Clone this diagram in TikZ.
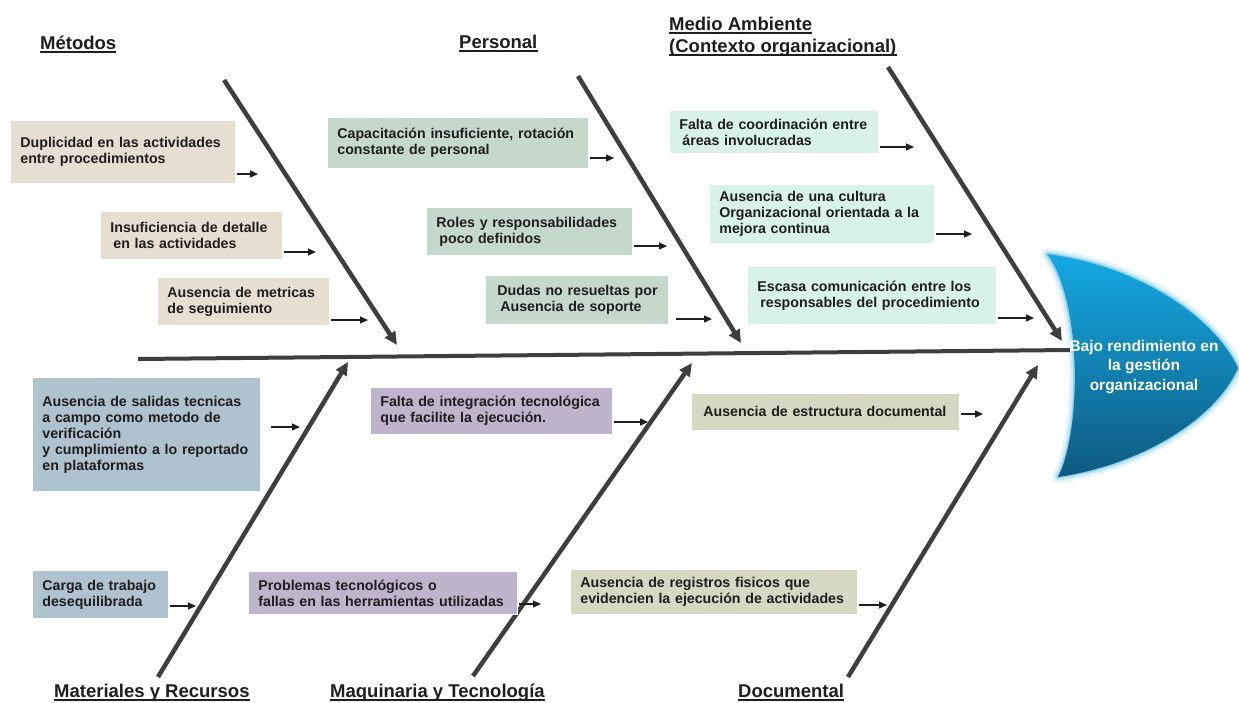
\documentclass[tikz,border=0pt]{standalone}
\usepackage{fontspec}
\setmainfont{Liberation Sans}
\usetikzlibrary{arrows.meta,calc}
\definecolor{cbeige}{HTML}{E6DFD1}
\definecolor{cgreen}{HTML}{C5D8CC}
\definecolor{cmint}{HTML}{D8F2EA}
\definecolor{cblue}{HTML}{AEC2CF}
\definecolor{clav}{HTML}{BEB5CC}
\definecolor{csage}{HTML}{D6D8C2}
\definecolor{bonec}{HTML}{3E3E3E}
\definecolor{txt}{HTML}{1E1E1E}
\definecolor{headlight}{HTML}{14AAE4}
\definecolor{headdark}{HTML}{0E5A80}
\definecolor{glow}{HTML}{9FD8EE}
\begin{document}
\begin{tikzpicture}[x=1pt,y=-1pt,
  box/.style={anchor=north west, inner xsep=10pt, inner ysep=3pt, align=left,
    font=\fontsize{14.2}{16}\selectfont\bfseries, text=txt, draw=white, line width=0.8pt},
  bone/.style={line width=4.5pt, draw=bonec, -{Triangle[length=13pt,width=12pt]}},
  sarr/.style={line width=1.2pt, draw=txt, -{Triangle[length=8pt,width=7pt]}},
  ttl/.style={anchor=base west, inner sep=0pt, font=\fontsize{18.5}{22}\selectfont\bfseries, text=txt},
  uline/.style={line width=1.3pt, draw=txt}
]
\useasboundingbox (0,0) rectangle (1239,702);

% ---------- head ----------
\def\headpath{(1047,254) .. controls (1140,266) and (1215,318) .. (1238,368)
   .. controls (1215,420) and (1140,465) .. (1058,477)
   .. controls (1082,430) and (1082,300) .. cycle}
\draw[glow, line width=12pt, opacity=0.25, line join=round] \headpath;
\draw[glow, line width=7pt, opacity=0.45, line join=round] \headpath;
\draw[glow!70!headlight, line width=3pt, opacity=0.7, line join=round] \headpath;
\shade[left color=headlight, right color=headdark, shading angle=0] \headpath;

% ---------- spine ----------
\coordinate (s0) at (138,359);
\coordinate (s1) at (1070,350);
\draw[line width=4pt, draw=bonec] (s0) -- (s1);

% ---------- bones ----------
\coordinate (m0) at (224,80);   \coordinate (m1) at (397,345);
\coordinate (p0) at (578,76);   \coordinate (p1) at (741,343);
\coordinate (a0) at (888,67);   \coordinate (a1) at (1062,341);
\coordinate (r0) at (158,677);  \coordinate (r1) at (348,362);
\coordinate (q0) at (473,676);  \coordinate (q1) at (692,363);
\coordinate (d0) at (848,677);  \coordinate (d1) at (1038,365);
\draw[bone] (m0) -- (m1);
\draw[bone] (p0) -- (p1);
\draw[bone] (a0) -- (a1);
\draw[bone] (r0) -- (r1);
\draw[bone] (q0) -- (q1);
\draw[bone] (d0) -- (d1);

% ---------- head text ----------
\node[align=center, text=white, font=\fontsize{15.5}{19.5}\selectfont\bfseries] (head) at (1144,367)
  {Bajo rendimiento en\\la gestión\\organizacional};

% ---------- titles ----------
\node[ttl] (tM) at (40,49) {Métodos};
\node[ttl] (tP) at (459,48) {Personal};
\node[ttl] (tA1) at (669,30) {Medio Ambiente};
\node[ttl] (tA2) at (669,52) {(Contexto organizacional)};
\node[ttl] (tR) at (54,697) {Materiales y Recursos};
\node[ttl] (tQ) at (330,697) {Maquinaria y Tecnología};
\node[ttl] (tD) at (738,697) {Documental};
\foreach \t in {tM,tP,tA1,tA2,tR,tQ,tD}
  \draw[uline] ([yshift=-3pt]\t.base west) -- ([yshift=-3pt]\t.base east);

% ---------- boxes ----------
\node[box, fill=cbeige, text width=205pt, minimum height=63pt] (b1) at (10,120)
  {Duplicidad en las actividades\\entre procedimientos};
\node[box, fill=cbeige, text width=162pt, minimum height=48pt] (b2) at (100,211)
  {Insuficiencia de detalle\\\hspace*{3pt}en las actividades};
\node[box, fill=cbeige, text width=152pt, minimum height=48pt] (b3) at (157,277)
  {Ausencia de metricas\\de seguimiento};
\node[box, fill=cgreen, text width=241pt, minimum height=51pt] (b4) at (327,117)
  {Capacitación insuficiente, rotación\\constante de personal};
\node[box, fill=cgreen, text width=186pt, minimum height=48pt] (b5) at (426,207)
  {Roles y responsabilidades\\\hspace*{3pt}poco definidos};
\node[box, fill=cgreen, text width=163pt, minimum height=49pt] (b6) at (485,275)
  {\hspace*{2pt}Dudas no resueltas por\\\hspace*{5pt}Ausencia de soporte};
\node[box, fill=cmint, text width=189pt, minimum height=43pt] (b7) at (669,110)
  {Falta de coordinación entre\\\hspace*{3pt}áreas involucradas};
\node[box, fill=cmint, text width=205pt, minimum height=59pt] (b8) at (709,184)
  {Ausencia de una cultura\\Organizacional orientada a la\\mejora continua};
\node[box, fill=cmint, text width=229pt, minimum height=58pt] (b9) at (747,266)
  {Escasa comunicación entre los\\\hspace*{3pt}responsables del procedimiento};
\node[box, fill=cblue, text width=208pt, minimum height=114pt] (b10) at (32,377)
  {Ausencia de salidas tecnicas\\a campo como metodo de\\verificación\\y cumplimiento a lo reportado\\en plataformas};
\node[box, fill=cblue, text width=116pt, minimum height=48pt] (b11) at (32,570)
  {Carga de trabajo\\desequilibrada};
\node[box, fill=clav, text width=222pt, minimum height=47pt] (b12) at (370,387)
  {Falta de integración tecnológica\\que facilite la ejecución.};
\node[box, fill=clav, text width=249pt, minimum height=43pt] (b13) at (248,571)
  {Problemas tecnológicos o\\fallas en las herramientas utilizadas};
\node[box, fill=csage, text width=248pt, minimum height=37pt] (b14) at (691,393)
  {\hspace*{2pt}Ausencia de estructura documental};
\node[box, fill=csage, text width=267pt, minimum height=45pt] (b15) at (570,569)
  {Ausencia de registros fisicos que\\evidencien la ejecución de actividades};

% ---------- small arrows ----------
\coordinate (e1) at (258,174);
\coordinate (e2) at (316,252);
\coordinate (e3) at (368,320);
\coordinate (e4) at (614,158);
\coordinate (e5) at (667,246);
\coordinate (e6) at (712,319);
\coordinate (e7) at (914,147);
\coordinate (e8) at (972,234);
\coordinate (e9) at (1034,318);
\coordinate (e10) at (300,427);
\coordinate (e11) at (196,606);
\coordinate (e12) at (648,422);
\coordinate (e13) at (541,604);
\coordinate (e14) at (983,414);
\coordinate (e15) at (887,605);
\draw[sarr] ([xshift=1pt]b1.east |- e1) -- (e1);
\draw[sarr] ([xshift=1pt]b2.east |- e2) -- (e2);
\draw[sarr] ([xshift=1pt]b3.east |- e3) -- (e3);
\draw[sarr] ([xshift=1pt]b4.east |- e4) -- (e4);
\draw[sarr] ([xshift=1pt]b5.east |- e5) -- (e5);
\draw[sarr] ([xshift=7pt]b6.east |- e6) -- (e6);
\draw[sarr] ([xshift=1pt]b7.east |- e7) -- (e7);
\draw[sarr] ([xshift=1pt]b8.east |- e8) -- (e8);
\draw[sarr] ([xshift=1pt]b9.east |- e9) -- (e9);
\draw[sarr] ([xshift=10pt]b10.east |- e10) -- (e10);
\draw[sarr] ([xshift=1pt]b11.east |- e11) -- (e11);
\draw[sarr] ([xshift=1pt]b12.east |- e12) -- (e12);
\draw[sarr] ([xshift=1pt]b13.east |- e13) -- (e13);
\draw[sarr] ([xshift=1pt]b14.east |- e14) -- (e14);
\draw[sarr] ([xshift=1pt]b15.east |- e15) -- (e15);
\end{tikzpicture}
\end{document}
